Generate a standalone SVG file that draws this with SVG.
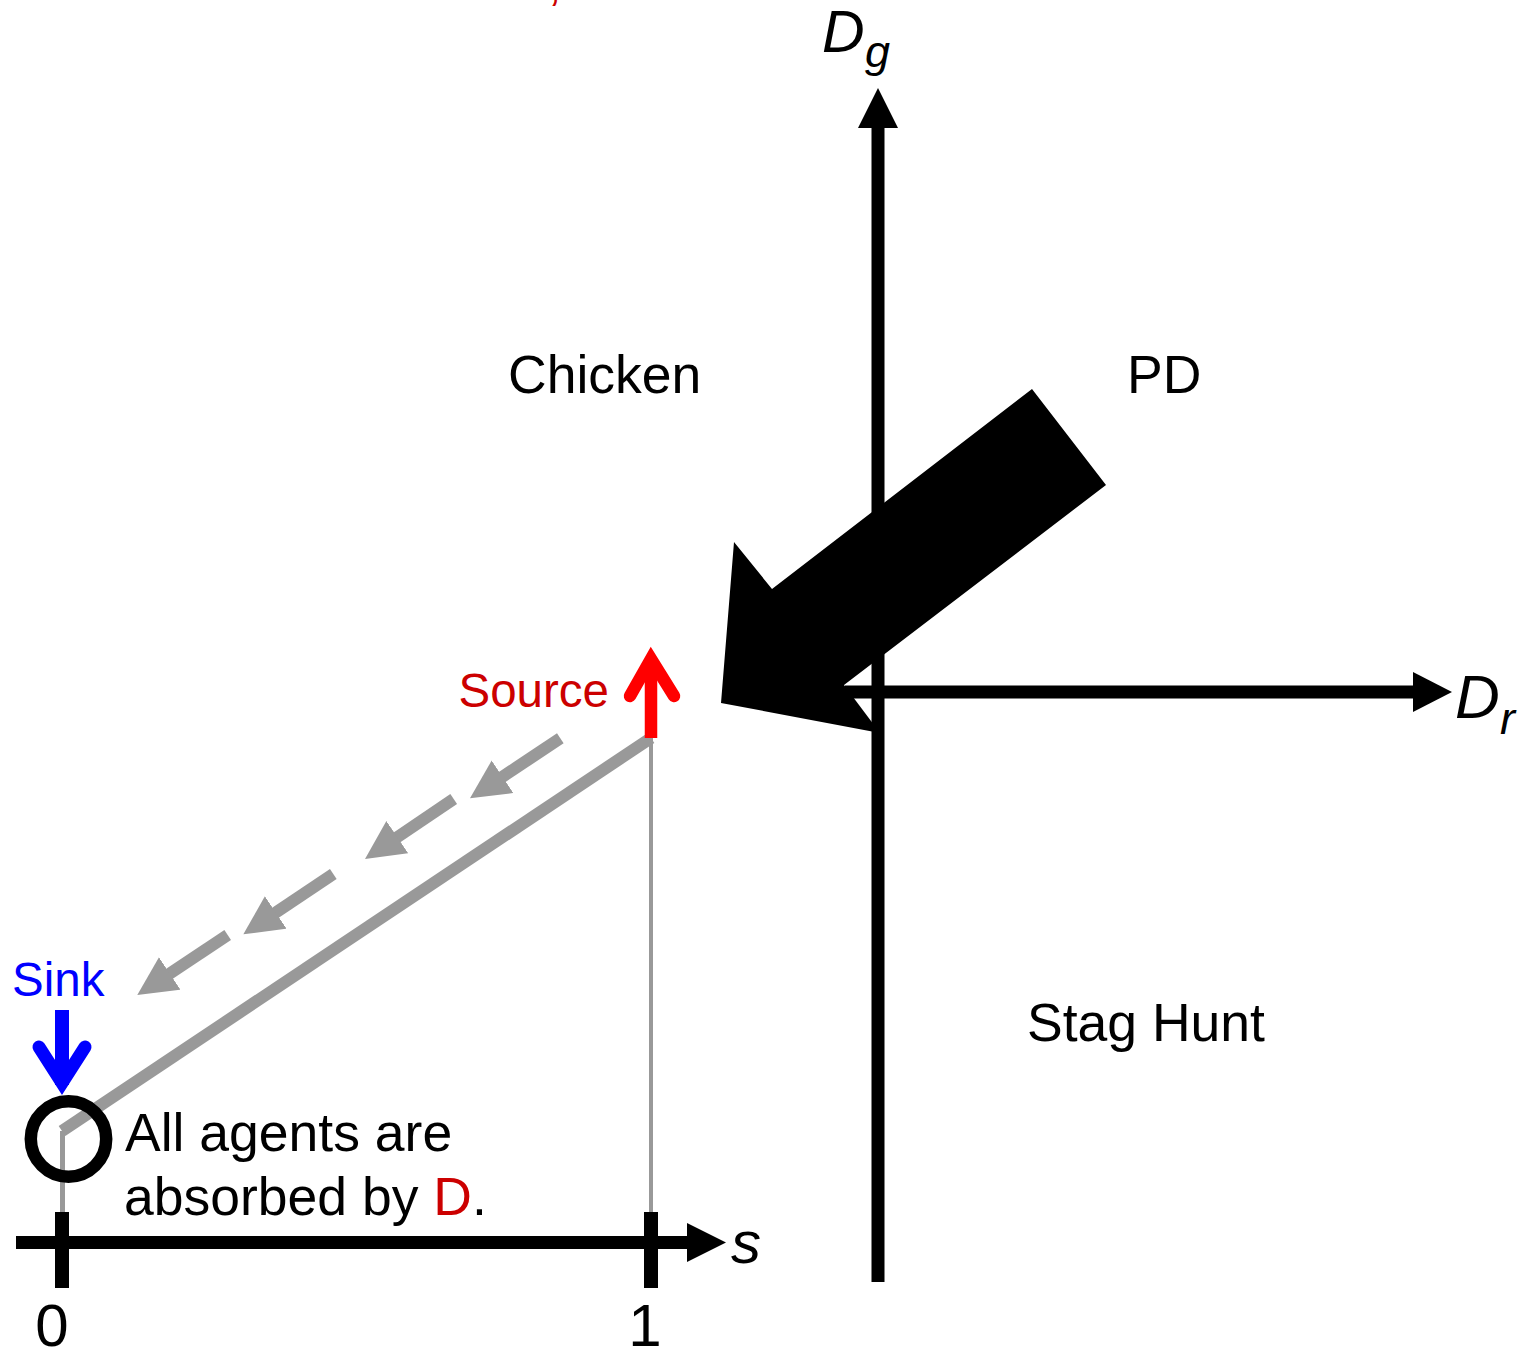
<svg xmlns="http://www.w3.org/2000/svg" width="1523" height="1351" viewBox="0 0 1523 1351">
<style>
text{font-family:"Liberation Sans",Arial,sans-serif;fill:#000}
.lbl{font-size:53.5px}
.it{font-style:italic}
.gray{stroke:#999999;fill:none}
.red{fill:#cc0000}
</style>
<defs>
<marker id="gh" markerUnits="userSpaceOnUse" markerWidth="40" markerHeight="40" viewBox="0 0 40 40" refX="8" refY="19.5" orient="auto">
<path d="M0,0 L39,19.5 L0,39 z" fill="#999999"/>
</marker>
</defs>
<rect width="1523" height="1351" fill="#ffffff"/>
<text x="548" y="0" font-size="48" class="red">,</text>
<g id="game-axes">
<polygon id="big-arrow" points="721,703 734,542 772,589 1032,389 1106,485 844,685 880,733" fill="#000"/>
<line x1="878" y1="1282" x2="878" y2="125" stroke="#000" stroke-width="13"/>
<polygon points="878,88 858,128 898,128" fill="#000"/>
<line x1="845" y1="692" x2="1415" y2="692" stroke="#000" stroke-width="13"/>
<polygon points="1452,692 1413,672 1413,712" fill="#000"/>
</g>
<g id="labels">
<text class="lbl" x="508" y="393">Chicken</text>
<text class="lbl" x="1127" y="393">PD</text>
<text class="lbl" x="1027" y="1041">Stag Hunt</text>
<text class="it" x="822" y="52" font-size="59">D</text>
<text class="it" x="865" y="67" font-size="45">g</text>
<text class="it" x="1455" y="718" font-size="62">D</text>
<text class="it" x="1500" y="734" font-size="45">r</text>
</g>
<g id="connectors">
<line class="gray" x1="62" y1="1131" x2="651" y2="738" stroke-width="12"/>
<line class="gray" x1="62.5" y1="1131" x2="62.5" y2="1212" stroke-width="5"/>
<line class="gray" x1="651" y1="738" x2="651" y2="1212" stroke-width="4"/>
<line class="gray" x1="560.3" y1="738.3" x2="495.8" y2="781.2" stroke-width="12" marker-end="url(#gh)"/>
<line class="gray" x1="453.7" y1="799" x2="390.7" y2="841.6" stroke-width="12" marker-end="url(#gh)"/>
<line class="gray" x1="333.3" y1="874" x2="269.1" y2="917" stroke-width="12" marker-end="url(#gh)"/>
<line class="gray" x1="227.7" y1="935" x2="163.1" y2="977.9" stroke-width="12" marker-end="url(#gh)"/>
</g>
<g id="s-axis">
<line x1="16" y1="1242.5" x2="690" y2="1242.5" stroke="#000" stroke-width="13"/>
<polygon points="726,1242.5 687,1223 687,1262" fill="#000"/>
<line x1="62" y1="1212" x2="62" y2="1288" stroke="#000" stroke-width="14"/>
<line x1="651" y1="1212" x2="651" y2="1288" stroke="#000" stroke-width="14"/>
<text x="52" y="1346" font-size="60" text-anchor="middle">0</text>
<text x="645" y="1346" font-size="60" text-anchor="middle">1</text>
<text class="it" x="731" y="1263" font-size="60">s</text>
</g>
<g id="source">
<line x1="651" y1="738" x2="651" y2="662" stroke="#ff0000" stroke-width="12.5"/>
<polyline points="630,696 651,659 674,696" fill="none" stroke="#ff0000" stroke-width="12.5" stroke-linecap="round" stroke-linejoin="miter"/>
<text x="458.5" y="707" font-size="47.5" class="red">Source</text>
</g>
<g id="sink">
<text x="12" y="996" font-size="47.5" style="fill:#0000ff">Sink</text>
<line x1="62" y1="1010" x2="62" y2="1085" stroke="#0000ff" stroke-width="14"/>
<polyline points="39,1047 62,1083 85,1047" fill="none" stroke="#0000ff" stroke-width="13" stroke-linecap="round" stroke-linejoin="miter"/>
</g>
<g id="absorbing-state">
<circle cx="68.5" cy="1139" r="37.7" fill="none" stroke="#000" stroke-width="12.5"/>
<text class="lbl" x="125" y="1151">All agents are</text>
<text class="lbl" x="124" y="1215">absorbed by <tspan class="red">D</tspan>.</text>
</g>
</svg>
